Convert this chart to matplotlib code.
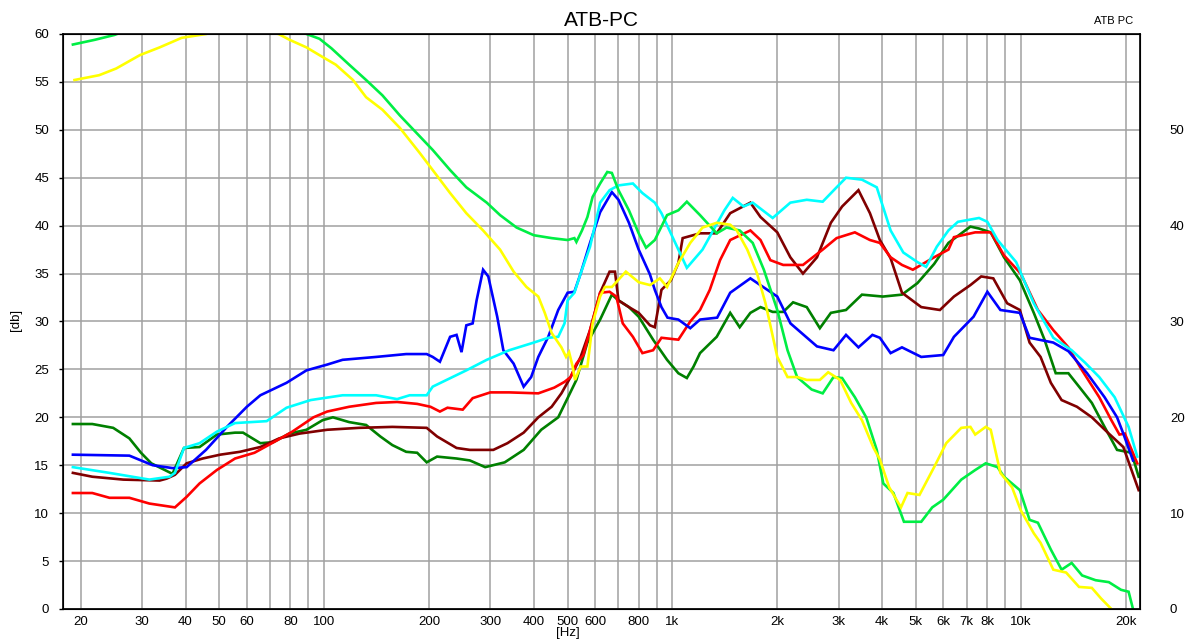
import matplotlib
matplotlib.use('Agg')
import matplotlib.pyplot as plt
from matplotlib.ticker import FixedLocator, NullFormatter

plt.rcParams['font.family'] = ['Liberation Sans', 'DejaVu Sans']

# 数据：频率 [Hz] 与 声压 [db]
blue_f = [19, 27.6, 32.2, 36.7, 40.3, 45.8, 52.6, 60, 65.6, 78, 89, 102, 113, 141, 172, 197, 205, 215,
          230, 240, 248, 256, 267, 274, 286, 296, 314, 327, 350, 374, 393, 412, 440, 470, 500, 523, 545,
          580, 620, 670, 700, 750, 800, 862, 890, 930, 968, 1040, 1125, 1200, 1344, 1465, 1674, 2000,
          2182, 2600, 2900, 3150, 3420, 3750, 3940, 4230, 4560, 5180, 5990, 6430, 7320, 8020, 8740,
          9940, 10600, 12400, 13700, 15500, 17400, 18900, 19700, 21000]
blue_db = [16.1, 16, 15, 14.7, 14.8, 16.6, 19, 21.1, 22.3, 23.6, 24.9, 25.5, 26, 26.3, 26.6, 26.6, 26.3,
           25.8, 28.4, 28.6, 26.8, 29.6, 29.8, 32.2, 35.4, 34.7, 30.5, 27, 25.6, 23.2, 24.2, 26.3, 28.4,
           31.2, 33, 33.1, 35, 38.2, 41.4, 43.5, 42.7, 40.3, 37.5, 34.9, 33.3, 31.5, 30.4, 30.2, 29.3,
           30.2, 30.4, 33, 34.5, 32.6, 29.8, 27.4, 27, 28.6, 27.3, 28.6, 28.3, 26.7, 27.3, 26.3, 26.5,
           28.4, 30.5, 33.1, 31.2, 30.9, 28.3, 27.8, 26.9, 24.6, 22.1, 20, 18.3, 15.5]

cyan_f = [19, 24.2, 31.5, 36, 37.3, 39.6, 43.9, 49.2, 55.5, 68.4, 78, 91.5, 113, 141, 162, 176, 197, 205,
          256, 293, 340, 400, 440, 470, 490, 500, 523, 545, 580, 620, 660, 700, 770, 820, 890, 930, 1040,
          1100, 1220, 1410, 1490, 1600, 1700, 1940, 2180, 2430, 2700, 2960, 3150, 3500, 3860, 4230, 4600,
          5050, 5350, 5740, 6200, 6600, 7590, 8020, 8580, 9700, 10900, 12400, 14000, 15300, 16800,
          18600, 20400, 21600]
cyan_db = [14.8, 14.2, 13.5, 13.8, 14.2, 16.8, 17.3, 18.5, 19.4, 19.6, 21, 21.8, 22.3, 22.3, 21.9, 22.3,
           22.3, 23.2, 24.9, 26, 27, 27.8, 28.3, 28.4, 29.8, 32.2, 33, 35, 37.8, 42.4, 43.7, 44.2, 44.4,
           43.4, 42.4, 41.3, 37.5, 35.6, 37.5, 41.6, 42.9, 42, 42.4, 40.8, 42.4, 42.7, 42.5, 44, 45, 44.8,
           44, 39.5, 37.2, 36.2, 35.7, 37.8, 39.5, 40.4, 40.8, 40.4, 38.5, 36.2, 31.9, 28.3, 27, 25.7,
           24.2, 22.1, 19, 15.9]

red_f = [19, 21.6, 24.2, 27.6, 31.5, 37.3, 40.3, 43.9, 49.2, 55.5, 63.1, 73.3, 81, 93.2, 102, 118, 141,
         162, 185, 202, 215, 226, 250, 267, 300, 340, 412, 458, 490, 510, 530, 555, 580, 620, 660, 690,
         720, 770, 820, 880, 930, 1040, 1125, 1200, 1280, 1370, 1465, 1674, 1790, 1910, 2080, 2370, 2700,
         2960, 3340, 3690, 3940, 4230, 4560, 4900, 5640, 6200, 6430, 7400, 8200, 8950, 10000, 11200,
         12400, 13700, 15000, 16800, 18200, 19200, 19900, 21600]
red_db = [12.1, 12.1, 11.6, 11.6, 11, 10.6, 11.7, 13.1, 14.5, 15.7, 16.3, 17.6, 18.5, 20, 20.6, 21.1,
          21.5, 21.6, 21.4, 21.1, 20.6, 21, 20.8, 22, 22.6, 22.6, 22.5, 23.1, 23.7, 24.2, 25.6, 26.5,
          29.1, 33, 33.1, 32.6, 29.8, 28.4, 26.7, 27, 28.3, 28.1, 30, 31.2, 33.3, 36.4, 38.5, 39.5, 38.5,
          36.4, 35.9, 35.9, 37.5, 38.7, 39.3, 38.5, 38.2, 36.7, 35.9, 35.4, 36.7, 37.5, 38.8, 39.3, 39.3,
          36.9, 35, 31.2, 29.1, 27.3, 24.9, 22.1, 19.7, 18.2, 18.3, 15.2]

maroon_f = [19, 21.6, 26.5, 33.7, 35.3, 37.3, 40.3, 44.8, 50.3, 57.3, 65.6, 74.3, 85, 102, 126, 157, 197,
            211, 240, 262, 306, 336, 374, 412, 450, 480, 510, 545, 580, 620, 660, 684, 700, 750, 800,
            862, 890, 930, 990, 1040, 1070, 1200, 1340, 1465, 1674, 1790, 2000, 2180, 2370, 2600, 2850,
            3070, 3420, 3690, 3940, 4230, 4560, 5180, 5860, 6430, 7170, 7700, 8340, 9140, 9940, 10600,
            11400, 12200, 13100, 14500, 16000, 17900, 19700, 21800]
maroon_db = [14.2, 13.8, 13.5, 13.4, 13.6, 14, 15.2, 15.7, 16.1, 16.4, 16.9, 17.8, 18.3, 18.7, 18.9, 19,
             18.9, 18, 16.8, 16.6, 16.6, 17.3, 18.4, 20, 21.1, 22.5, 24.2, 26.3, 29.1, 33, 35.2, 35.2,
             32.2, 31.5, 30.9, 29.6, 29.4, 33.3, 34.3, 36.1, 38.7, 39.2, 39.2, 41.3, 42.4, 40.9, 39.3,
             36.7, 35, 36.7, 40.3, 42, 43.7, 41.3, 38.5, 36.6, 33, 31.5, 31.2, 32.6, 33.8, 34.7, 34.5,
             31.9, 31.2, 27.8, 26.3, 23.6, 21.8, 21.1, 20, 18.3, 16.9, 12.4]

dgreen_f = [19, 21.6, 24.8, 27.6, 29.8, 31.9, 36.7, 39.6, 43.9, 49.2, 55.5, 58.5, 65.6, 71.4, 79.4, 89,
            99, 106, 118, 132, 145, 157, 172, 185, 197, 211, 240, 262, 290, 330, 374, 420, 470, 500,
            530, 570, 620, 670, 700, 750, 800, 880, 965, 1040, 1100, 1150, 1200, 1340, 1465, 1560, 1674,
            1790, 1940, 2080, 2220, 2430, 2650, 2850, 3150, 3500, 4020, 4560, 5050, 5640, 6200, 7170,
            7590, 8200, 8950, 9940, 10900, 11700, 12600, 13700, 14700, 16000, 17400, 18900, 20800, 21800]
dgreen_db = [19.3, 19.3, 18.9, 17.8, 16.3, 15.2, 14.1, 16.8, 16.9, 18.2, 18.4, 18.4, 17.3, 17.4, 18.3,
             18.7, 19.7, 20, 19.5, 19.2, 18, 17.1, 16.4, 16.3, 15.3, 15.9, 15.7, 15.5, 14.8, 15.3, 16.6,
             18.7, 20, 22, 23.9, 27.8, 30.2, 32.8, 32.2, 31.5, 30.5, 28.1, 26, 24.6, 24.1, 25.3, 26.7,
             28.4, 30.9, 29.4, 30.9, 31.5, 31, 31, 32, 31.5, 29.3, 30.9, 31.2, 32.8, 32.6, 32.8, 34,
             36, 38.2, 39.9, 39.7, 39.3, 36.7, 34.3, 30.9, 28.1, 24.6, 24.6, 23.2, 21.5, 19, 16.6, 16.3,
             13.8]

lgreen_f = [19, 22, 25, 30, 40, 60, 80, 89, 97, 105, 118, 132, 147, 165, 205, 230, 256, 293, 320, 357,
            400, 450, 500, 523, 530, 550, 570, 590, 620, 650, 670, 700, 750, 800, 840, 890, 965, 1040,
            1100, 1200, 1340, 1430, 1560, 1700, 1830, 2000, 2140, 2280, 2510, 2700, 2900, 3070, 3340,
            3600, 3860, 4030, 4310, 4620, 5180, 5570, 5990, 6750, 7400, 7930, 8580, 8950, 9940, 10600,
            11200, 12200, 13100, 14000, 15000, 16400, 17900, 19400, 20400, 21000]
lgreen_db = [58.9, 59.4, 59.9, 61, 63, 63, 61, 60, 59.5, 58.5, 56.8, 55.2, 53.6, 51.5, 47.9, 45.8, 44,
             42.4, 41.1, 39.8, 39, 38.7, 38.5, 38.7, 38.3, 39.5, 40.9, 43, 44.4, 45.6, 45.5, 43.7, 41.6,
             39.2, 37.7, 38.5, 41.1, 41.6, 42.5, 41.1, 39.2, 39.8, 39.5, 38.2, 35.4, 31.2, 27, 24.2, 22.9,
             22.5, 24.2, 24.1, 22.1, 20, 16.6, 13.1, 12.1, 9.1, 9.1, 10.6, 11.4, 13.5, 14.5, 15.2, 14.8,
             13.8, 12.4, 9.3, 9, 6.2, 4.1, 4.8, 3.5, 3, 2.8, 2, 1.8, 0]

yellow_f = [19.2, 22.6, 25.3, 29.6, 33.7, 39, 45.8, 55, 65, 74, 79.5, 89, 99, 108, 121, 132, 147, 165,
            188, 205, 230, 256, 286, 320, 350, 381, 412, 430, 450, 480, 495, 505, 517, 525, 545, 570,
            590, 620, 640, 670, 735, 800, 862, 920, 965, 1040, 1125, 1220, 1340, 1465, 1530, 1640, 1750,
            1850, 2000, 2140, 2280, 2430, 2650, 2800, 3030, 3260, 3500, 3780, 3940, 4190, 4530, 4730,
            5120, 5640, 6110, 6750, 7170, 7400, 7930, 8200, 8740, 9440, 10000, 10900, 11400, 12400,
            13500, 14700, 16000, 17000, 18200]
yellow_db = [55.2, 55.7, 56.4, 57.8, 58.6, 59.6, 60, 60.6, 60.4, 60, 59.4, 58.6, 57.6, 56.8, 55.2, 53.4,
             52.1, 50.2, 47.6, 45.8, 43.4, 41.3, 39.5, 37.5, 35.2, 33.6, 32.6, 30.9, 28.8, 27.3, 26.3,
             26.8, 25.3, 23.9, 25.3, 25.3, 29.8, 32.6, 33.6, 33.6, 35.2, 34.1, 33.8, 34.5, 33.6, 36.1,
             38.2, 39.8, 40.3, 40.1, 39.5, 37.5, 35, 31.9, 26.3, 24.2, 24.2, 23.9, 23.9, 24.7, 23.9, 21.5,
             19.7, 16.8, 15.6, 12.7, 10.6, 12.1, 11.9, 14.8, 17.3, 18.9, 19, 18.2, 19, 18.7, 14.2, 12.7,
             10.3, 7.9, 6.9, 4.1, 3.8, 2.3, 2.2, 1.1, 0]

x_ticks = [20, 30, 40, 50, 60, 80, 100, 200, 300, 400, 500, 600, 800, 1000, 2000, 3000, 4000, 5000,
           6000, 7000, 8000, 10000, 20000]
x_labels = ['20', '30', '40', '50', '60', '80', '100', '200', '300', '400', '500', '600', '800', '1k',
            '2k', '3k', '4k', '5k', '6k', '7k', '8k', '10k', '20k']
x_grid_extra = [70, 90, 700, 900, 9000]

fig = plt.figure(figsize=(11.96, 6.39), dpi=100)
ax = fig.add_axes([0.0527, 0.047, 0.9005, 0.8998])

series = [
    (dgreen_f, dgreen_db, '#008000'),
    (maroon_f, maroon_db, '#800000'),
    (red_f, red_db, '#FF0000'),
    (blue_f, blue_db, '#0000FF'),
    (cyan_f, cyan_db, '#00FFFF'),
    (lgreen_f, lgreen_db, '#00EE44'),
    (yellow_f, yellow_db, '#FFFF00'),
]
for f, db, c in series:
    ax.plot(f, db, color=c, linewidth=1.9, solid_joinstyle='miter')

ax.set_xscale('log')
ax.set_xlim(17.8, 22000)
ax.set_ylim(0, 60)

ax.xaxis.set_major_locator(FixedLocator(x_ticks))
ax.set_xticklabels(x_labels)
ax.xaxis.set_minor_locator(FixedLocator(x_grid_extra))
ax.xaxis.set_minor_formatter(NullFormatter())
ax.set_yticks(range(0, 61, 5))

ax.grid(True, which='both', color='#a0a0a0', linewidth=1.1)
ax.set_axisbelow(True)
ax.tick_params(axis='x', which='both', length=0, pad=5, labelsize=9.5)
ax.tick_params(axis='y', length=3, width=1, pad=7, labelsize=9.5)
for s in ax.spines.values():
    s.set_linewidth(1.2)

# 右侧刻度
ax2 = ax.twinx()
ax2.set_ylim(0, 60)
ax2.set_yticks(range(0, 51, 10))
ax2.tick_params(axis='y', length=0, pad=21.5, labelsize=9.5)

ax.set_title('ATB-PC', fontsize=15, pad=6)
fig.text(0.931, 0.967, 'ATB PC', fontsize=8, ha='center', va='center')
fig.text(0.475, 0.0, '[Hz]', fontsize=9.5, ha='center', va='bottom')
fig.text(0.013, 0.5, '[db]', fontsize=9.5, rotation=90, ha='center', va='center')

fig.savefig('out.png', dpi=100)
